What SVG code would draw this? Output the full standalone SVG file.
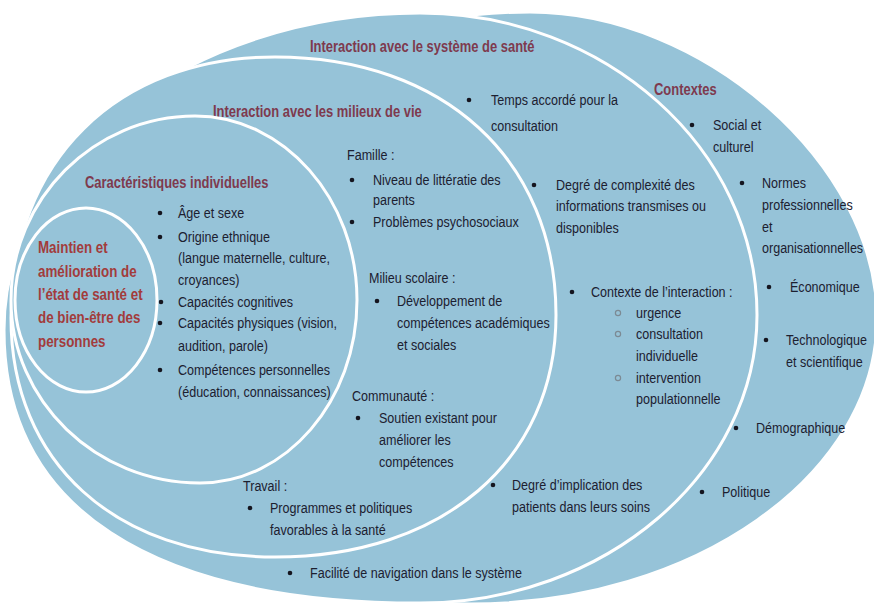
<svg xmlns="http://www.w3.org/2000/svg" width="874" height="610" viewBox="0 0 874 610">
<defs>
<style>
.shape{fill:#96c3d8;stroke:#ffffff;stroke-width:3}
.h{font-family:"Liberation Sans",Arial,sans-serif;font-weight:bold;font-size:16px;fill:#7e3a4e}
.m{font-family:"Liberation Sans",Arial,sans-serif;font-weight:bold;font-size:16.5px;fill:#a23c3c}
.t{font-family:"Liberation Sans",Arial,sans-serif;font-size:15.5px;fill:#1c2030}
.dot{fill:#15151f}
.sub{fill:none;stroke:#7c8a94;stroke-width:1.2}
</style>
</defs>
<rect width="874" height="610" fill="#ffffff"/>

<g id="contextes">
<path class="shape" d="M120,310 C120,146 304.5,12 530,12 C703.5,12 877,165 877,318 C877,475 694,604 470,604 C277.5,604 120,472 120,310 Z"/>
<g transform="translate(654,95) scale(0.81,1)"><text class="h" x="0" y="0">Contextes</text></g>
<circle class="dot" cx="692" cy="125" r="2.3"/>
<g transform="translate(713,130) scale(0.81,1)"><text class="t"><tspan x="0" y="0">Social et</tspan><tspan x="0" y="22">culturel</tspan></text></g>
<circle class="dot" cx="742" cy="183" r="2.3"/>
<g transform="translate(762,188) scale(0.81,1)"><text class="t"><tspan x="0" y="0">Normes</tspan><tspan x="0" y="22">professionnelles</tspan><tspan x="0" y="44">et</tspan><tspan x="0" y="65">organisationnelles</tspan></text></g>
<circle class="dot" cx="769" cy="287" r="2.3"/>
<g transform="translate(790,292) scale(0.81,1)"><text class="t" x="0" y="0">Économique</text></g>
<circle class="dot" cx="766" cy="340" r="2.3"/>
<g transform="translate(786,345) scale(0.81,1)"><text class="t"><tspan x="0" y="0">Technologique</tspan><tspan x="0" y="22">et scientifique</tspan></text></g>
<circle class="dot" cx="736" cy="428" r="2.3"/>
<g transform="translate(756,433) scale(0.81,1)"><text class="t" x="0" y="0">Démographique</text></g>
<circle class="dot" cx="702" cy="492" r="2.3"/>
<g transform="translate(722,497) scale(0.81,1)"><text class="t" x="0" y="0">Politique</text></g>
</g>

<g id="systeme-sante">
<path class="shape" d="M4,330 C4,156 191,13 420,13 C605,13 757,149 757,315 C757,473 605,603 420,603 C150,603 4,507 4,330 Z"/>
<g transform="translate(310,52) scale(0.81,1)"><text class="h" x="0" y="0">Interaction avec le système de santé</text></g>
<circle class="dot" cx="469" cy="100" r="2.3"/>
<g transform="translate(491,105) scale(0.81,1)"><text class="t"><tspan x="0" y="0">Temps accordé pour la</tspan><tspan x="0" y="26">consultation</tspan></text></g>
<circle class="dot" cx="534" cy="185" r="2.3"/>
<g transform="translate(556,190) scale(0.81,1)"><text class="t"><tspan x="0" y="0">Degré de complexité des</tspan><tspan x="0" y="21">informations transmises ou</tspan><tspan x="0" y="43">disponibles</tspan></text></g>
<circle class="dot" cx="572" cy="292" r="2.3"/>
<g transform="translate(591,297) scale(0.81,1)"><text class="t" x="0" y="0">Contexte de l’interaction :</text></g>
<circle class="sub" cx="618" cy="313" r="2.6"/>
<circle class="sub" cx="618" cy="334" r="2.6"/>
<circle class="sub" cx="618" cy="378" r="2.6"/>
<g transform="translate(636,318) scale(0.81,1)"><text class="t"><tspan x="0" y="0">urgence</tspan><tspan x="0" y="21">consultation</tspan><tspan x="0" y="43">individuelle</tspan><tspan x="0" y="65">intervention</tspan><tspan x="0" y="86">populationnelle</tspan></text></g>
<circle class="dot" cx="493" cy="485" r="2.3"/>
<g transform="translate(512,490) scale(0.81,1)"><text class="t"><tspan x="0" y="0">Degré d’implication des</tspan><tspan x="0" y="22">patients dans leurs soins</tspan></text></g>
<circle class="dot" cx="290" cy="573" r="2.3"/>
<g transform="translate(310,578) scale(0.81,1)"><text class="t" x="0" y="0">Facilité de navigation dans le système</text></g>
</g>

<g id="milieux-vie">
<path class="shape" d="M11,318 C11,161 117,57 275,57 C444,57 556,160 556,315 C556,461 442,557 275,557 C115,557 11,462 11,318 Z"/>
<g transform="translate(213,117) scale(0.81,1)"><text class="h" x="0" y="0">Interaction avec les milieux de vie</text></g>
<g transform="translate(347,160) scale(0.81,1)"><text class="t" x="0" y="0">Famille :</text></g>
<circle class="dot" cx="352" cy="180" r="2.3"/>
<g transform="translate(373,185) scale(0.81,1)"><text class="t"><tspan x="0" y="0">Niveau de littératie des</tspan><tspan x="0" y="20">parents</tspan></text></g>
<circle class="dot" cx="352" cy="222" r="2.3"/>
<g transform="translate(373,227) scale(0.81,1)"><text class="t" x="0" y="0">Problèmes psychosociaux</text></g>
<g transform="translate(369,283) scale(0.81,1)"><text class="t" x="0" y="0">Milieu scolaire :</text></g>
<circle class="dot" cx="377" cy="301" r="2.3"/>
<g transform="translate(397,306) scale(0.81,1)"><text class="t"><tspan x="0" y="0">Développement de</tspan><tspan x="0" y="22">compétences académiques</tspan><tspan x="0" y="44">et sociales</tspan></text></g>
<g transform="translate(352,401) scale(0.81,1)"><text class="t" x="0" y="0">Communauté :</text></g>
<circle class="dot" cx="358" cy="418" r="2.3"/>
<g transform="translate(379,423) scale(0.81,1)"><text class="t"><tspan x="0" y="0">Soutien existant pour</tspan><tspan x="0" y="22">améliorer les</tspan><tspan x="0" y="44">compétences</tspan></text></g>
<g transform="translate(243,491) scale(0.81,1)"><text class="t" x="0" y="0">Travail :</text></g>
<circle class="dot" cx="250" cy="508" r="2.3"/>
<g transform="translate(270,513) scale(0.81,1)"><text class="t"><tspan x="0" y="0">Programmes et politiques</tspan><tspan x="0" y="22">favorables à la santé</tspan></text></g>
</g>

<g id="caracteristiques">
<path class="shape" d="M11,300 C11,199 94,116 195,116 C284,116 357,199 357,300 C357,401 286,483 200,483 C96,483 11,401 11,300 Z"/>
<g transform="translate(85,188) scale(0.81,1)"><text class="h" x="0" y="0">Caractéristiques individuelles</text></g>
<circle class="dot" cx="160" cy="213" r="2.3"/>
<circle class="dot" cx="160" cy="237" r="2.3"/>
<circle class="dot" cx="161" cy="302" r="2.3"/>
<circle class="dot" cx="160" cy="323" r="2.3"/>
<circle class="dot" cx="160" cy="370" r="2.3"/>
<g transform="translate(178,218) scale(0.81,1)"><text class="t"><tspan x="0" y="0">Âge et sexe</tspan><tspan x="0" y="24">Origine ethnique</tspan><tspan x="0" y="45">(langue maternelle, culture,</tspan><tspan x="0" y="67">croyances)</tspan><tspan x="0" y="89">Capacités cognitives</tspan><tspan x="0" y="110">Capacités physiques (vision,</tspan><tspan x="0" y="133">audition, parole)</tspan><tspan x="0" y="157">Compétences personnelles</tspan><tspan x="0" y="179">(éducation, connaissances)</tspan></text></g>
</g>

<g id="maintien">
<ellipse class="shape" cx="86" cy="300" rx="71" ry="92"/>
<g transform="translate(38,253) scale(0.81,1)"><text class="m"><tspan x="0" y="0">Maintien et</tspan><tspan x="0" y="24">amélioration de</tspan><tspan x="0" y="47">l’état de santé et</tspan><tspan x="0" y="70">de bien-être des</tspan><tspan x="0" y="94">personnes</tspan></text></g>
</g>

<g id="connectors"></g>
</svg>
